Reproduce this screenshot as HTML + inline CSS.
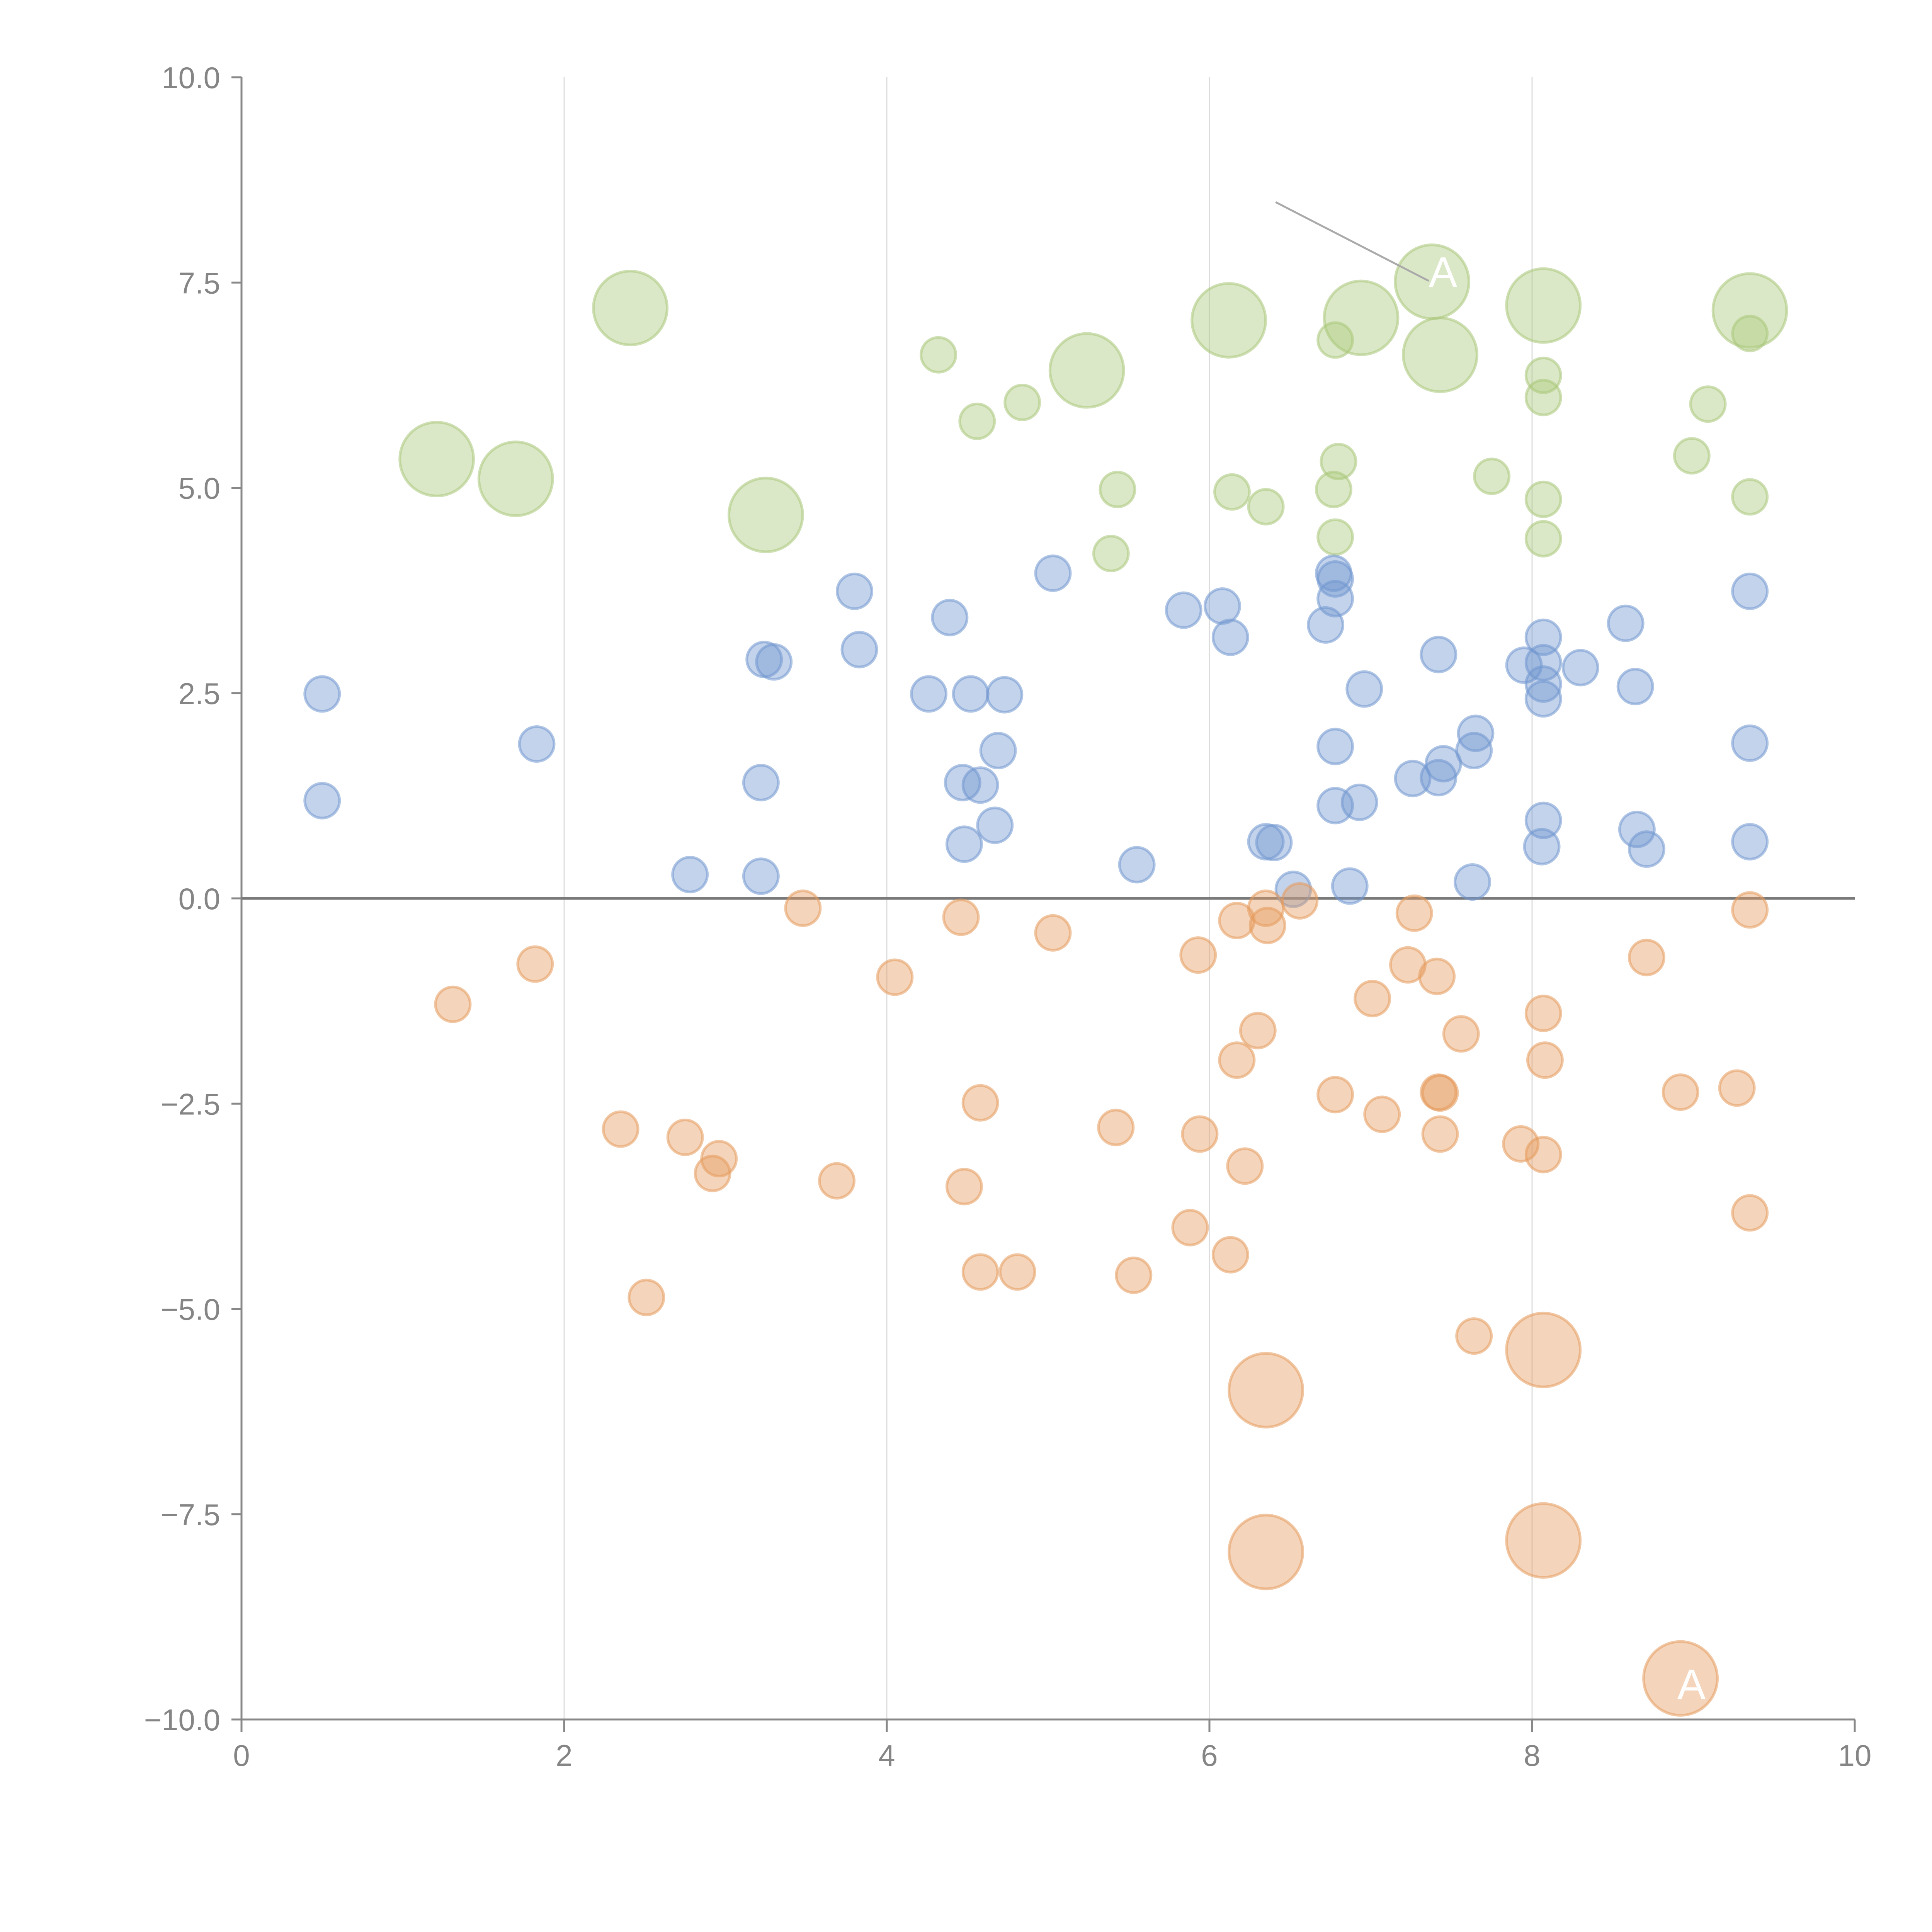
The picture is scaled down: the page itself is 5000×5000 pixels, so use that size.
<!DOCTYPE html>
<html><head><meta charset="utf-8"><style>
html,body{margin:0;padding:0;background:#fff;}
svg{display:block;}
text{font-family:"Liberation Sans",sans-serif;}
</style></head><body>
<svg id="chart" width="5000" height="5000" viewBox="0 0 5000 5000" xmlns="http://www.w3.org/2000/svg">
<g id="grid"></g>
<g id="axes"></g>
<g id="marks"></g>
<g id="annot"></g>
</svg>
<script>
const xTicks=[0,2,4,6,8,10];
const yTicks=[-10,-7.5,-5,-2.5,0,2.5,5,7.5,10];
const yTickLabels=["\u221210.0","\u22127.5","\u22125.0","\u22122.5","0.0","2.5","5.0","7.5","10.0"];

const blueX=[0.50,0.50,1.83,2.78,3.22,3.22,3.24,3.30,3.80,3.83,4.26,4.39,4.52,4.73,4.47,4.58,4.69,4.67,4.48,5.03,5.55,5.84,6.08,6.13,6.35,6.40,6.52,6.72,6.77,6.78,6.78,6.78,6.78,6.87,6.93,6.96,7.26,7.42,7.42,7.45,7.64,7.65,7.63,7.95,8.07,8.07,8.07,8.07,8.07,8.06,8.30,8.58,8.64,8.65,8.71,9.35,9.35,9.35];
const blueY=[2.49,1.19,1.88,0.29,0.27,1.41,2.91,2.88,3.74,3.03,2.49,3.42,2.49,2.48,1.41,1.38,1.80,0.89,0.66,3.96,0.41,3.51,3.56,3.18,0.69,0.68,0.11,3.33,3.96,3.89,3.65,1.85,1.13,0.15,1.17,2.55,1.46,2.97,1.47,1.64,1.80,2.01,0.20,2.84,3.18,2.87,2.61,2.43,0.95,0.63,2.81,3.35,2.58,0.84,0.60,3.74,1.89,0.69];

const orangeX=[1.31,1.82,2.35,2.51,2.75,2.92,2.96,3.48,3.69,4.05,4.46,4.48,4.58,4.58,4.81,5.03,5.42,5.53,5.88,5.93,5.94,6.13,6.17,6.17,6.22,6.30,6.35,6.36,6.56,6.78,7.01,7.07,7.23,7.27,7.41,7.42,7.43,7.43,7.56,7.64,7.93,8.07,8.08,8.07,8.71,8.92,9.27,9.35,9.35,6.35,6.35,8.07,8.07,8.92];
const orangeY=[-1.29,-0.80,-2.81,-4.86,-2.91,-3.35,-3.17,-0.12,-3.44,-0.96,-0.23,-3.51,-2.49,-4.55,-4.55,-0.42,-2.79,-4.59,-4.01,-0.69,-2.87,-4.34,-0.27,-1.97,-3.26,-1.61,-0.12,-0.33,-0.03,-2.39,-1.22,-2.63,-0.81,-0.18,-0.95,-2.36,-2.37,-2.87,-1.65,-5.33,-2.99,-1.40,-1.97,-3.12,-0.72,-2.36,-2.31,-0.14,-3.83,-5.99,-7.96,-5.50,-7.82,-9.50];
const orangeSize=[1,1,1,1,1,1,1,1,1,1,1,1,1,1,1,1,1,1,1,1,1,1,1,1,1,1,1,1,1,1,1,1,1,1,1,1,1,1,1,1,1,1,1,1,1,1,1,1,1,4.5,4.5,4.5,4.5,4.5];

const greenX=[4.32,4.56,4.84,5.39,5.43,6.14,6.35,6.78,6.80,6.77,6.78,7.75,8.07,8.07,8.07,8.07,8.99,9.09,9.35,9.35,1.21,1.70,2.41,3.25,5.24,6.12,6.94,7.38,7.43,8.07,9.35];
const greenY=[6.62,5.81,6.04,4.20,4.98,4.95,4.77,6.80,5.32,4.98,4.40,5.14,6.37,6.10,4.86,4.38,5.39,6.02,6.88,4.89,5.35,5.11,7.19,4.67,6.43,7.04,7.07,7.51,6.62,7.22,7.16];
const greenSize=[1,1,1,1,1,1,1,1,1,1,1,1,1,1,1,1,1,1,1,1,4.5,4.5,4.5,4.5,4.5,4.5,4.5,4.5,4.5,4.5,4.5];

const NS="http://www.w3.org/2000/svg";
const X0=625,X1=4800,Y0=4450,Y1=200;
function sx(v){return X0+(v-0)/(10-0)*(X1-X0);}
function sy(v){return Y0-(v+10)/20*(Y0-Y1);}
function rr(s){return 45*Math.sqrt(s);}
function mk(tag,attrs,parent){const e=document.createElementNS(NS,tag);for(const k in attrs)e.setAttribute(k,attrs[k]);parent.appendChild(e);return e;}

const grid=document.getElementById('grid');
const axes=document.getElementById('axes');
const marks=document.getElementById('marks');
const annot=document.getElementById('annot');

xTicks.forEach(t=>{
  if(t>0&&t<10){
    const g=mk('line',{x1:sx(t),x2:sx(t),y1:Y1,y2:Y0,stroke:'#dcdcdc','stroke-width':3},grid);
    
    
  }
  const tk=mk('line',{x1:sx(t),x2:sx(t),y1:Y0,y2:Y0+32,stroke:'#888','stroke-width':5},axes);
  
  
  const lb=mk('text',{x:sx(t),y:Y0+120,'text-anchor':'middle','font-size':78,fill:'#858585'},axes);
  lb.textContent=String(t);
  
  
});
yTicks.forEach((t,i)=>{
  const tk=mk('line',{x1:X0-26,x2:X0,y1:sy(t),y2:sy(t),stroke:'#888','stroke-width':5},axes);
  
  
  const lb=mk('text',{x:X0-55,y:sy(t)+28,'text-anchor':'end','font-size':78,fill:'#858585'},axes);
  lb.textContent=yTickLabels[i];
  
  
});
const ya=mk('line',{x1:X0,x2:X0,y1:Y1,y2:Y0,stroke:'#888','stroke-width':5},axes);


const xa=mk('line',{x1:X0,x2:X1,y1:Y0,y2:Y0,stroke:'#888','stroke-width':5},axes);



function series(xs,ys,sizes,fill,stroke,name){
  xs.forEach((x,i)=>{
    const c=mk('circle',{cx:sx(x),cy:sy(ys[i]),r:rr(sizes?sizes[i]:1),fill:fill,'fill-opacity':0.42,stroke:stroke,'stroke-opacity':0.55,'stroke-width':7},marks);
    
    
  });
}
series(greenX,greenY,greenSize,'#a9c77a','#a9c77a','green-bubble');
series(blueX,blueY,null,'#7197cf','#7197cf','blue-bubble');
series(orangeX,orangeY,orangeSize,'#e59a5c','#e59a5c','orange-bubble');

const zl=mk('line',{x1:X0,x2:X1,y1:sy(0),y2:sy(0),stroke:'#7a7a7a','stroke-width':7},axes);



const al=mk('line',{x1:sx(6.41),x2:sx(7.36),y1:sy(8.48),y2:sy(7.52),stroke:'#aaa','stroke-width':5},annot);


const t1=mk('text',{x:sx(7.36),y:sy(7.45),'font-size':110,fill:'#fff'},annot);
t1.textContent='A';


const t2=mk('text',{x:sx(8.9),y:sy(-9.75),'font-size':110,fill:'#fff'},annot);
t2.textContent='A';


</script>
</body></html>
